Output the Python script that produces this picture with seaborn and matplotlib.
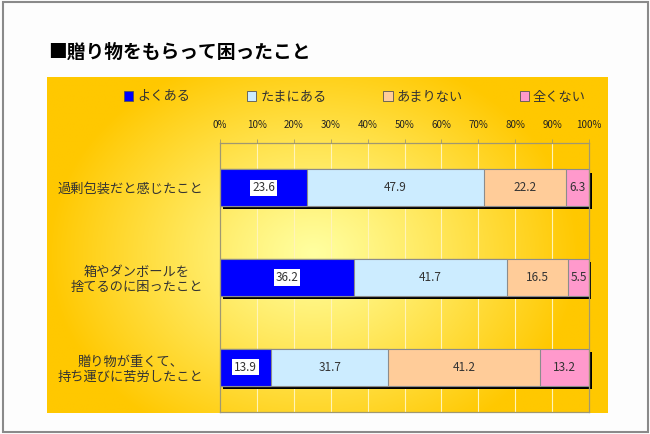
import numpy as np
import pandas as pd
import matplotlib
matplotlib.use('Agg')
import matplotlib.pyplot as plt
import matplotlib.patheffects as pe
from matplotlib.patches import Patch, Rectangle
import seaborn as sns

# data
categories = ['過剰包装だと感じたこと', '箱やダンボールを\n捨てるのに困ったこと', '贈り物が重くて、\n持ち運びに苦労したこと']
often = [23.6, 36.2, 13.9]
sometimes = [47.9, 41.7, 31.7]
rarely = [22.2, 16.5, 41.2]
never = [6.3, 5.5, 13.2]
series_names = ['よくある', 'たまにある', 'あまりない', '全くない']
colors = ['#0000FF', '#CCECFF', '#FFCC99', '#FF99CC']
tick_labels = ['0%', '10%', '20%', '30%', '40%', '50%', '60%', '70%', '80%', '90%', '100%']

sns.set_style('white')
plt.rcParams['font.family'] = ['Noto Sans CJK JP', 'DejaVu Sans']

df = pd.DataFrame({'cat': categories, 's1': often, 's2': sometimes, 's3': rarely, 's4': never})
df['c1'] = df['s1']
df['c2'] = df['c1'] + df['s2']
df['c3'] = df['c2'] + df['s3']
df['c4'] = df['c3'] + df['s4']

W, H = 650, 434
fig = plt.figure(figsize=(W / 100, H / 100), dpi=100)
fig.patch.set_facecolor('#FDFDFD')
fig.patches.append(Rectangle((3 / W, 2 / H), 645 / W, 430 / H, transform=fig.transFigure,
                             fill=False, edgecolor='#8A8A8A', linewidth=1.5))

# yellow gradient panel
px0, px1, py0, py1 = 47, 608, 77, 413
bg = fig.add_axes([px0 / W, 1 - py1 / H, (px1 - px0) / W, (py1 - py0) / H])
gx, gy = np.meshgrid(np.linspace(-1, 1, 400), np.linspace(-1, 1, 300))
t = np.clip(np.sqrt(((gx + 0.05) / 0.95) ** 2 + ((gy - 0.05) / 1.25) ** 2), 0, 1) ** 1.1
inner = np.array([255, 255, 160]) / 255
outer = np.array([255, 200, 0]) / 255
img = inner[None, None, :] * (1 - t[..., None]) + outer[None, None, :] * t[..., None]
bg.imshow(img, aspect='auto', extent=[0, 1, 0, 1])
bg.axis('off')

ax = fig.add_axes([220 / W, 1 - 412 / H, (589 - 220) / W, (412 - 143) / H])
ax.set_facecolor('none')

# stacked bars: draw cumulative totals from longest to shortest
for i, col in enumerate(['c4', 'c3', 'c2', 'c1']):
    n0 = len(ax.patches)
    sns.barplot(data=df, x=col, y='cat', orient='h', color=colors[3 - i], saturation=1,
                width=0.41, edgecolor='#8C8C8C', linewidth=0.8, ax=ax)
    if i == 0:
        for p in ax.patches[n0:]:
            p.set_clip_on(False)
            p.set_path_effects([pe.SimplePatchShadow(offset=(2, -2.2), shadow_rgbFace='black', alpha=1.0),
                                pe.Normal()])

# value labels
for j in range(len(categories)):
    left = 0
    for k, v in enumerate([often[j], sometimes[j], rarely[j], never[j]]):
        kw = dict(ha='center', va='center', fontsize=8.5, color='#333333', zorder=5)
        if k == 0:
            kw['bbox'] = dict(boxstyle='square,pad=0.15', facecolor='white', edgecolor='none')
        ax.text(left + v / 2, j, f'{v:.1f}', **kw)
        left += v

ax.set_xlim(0, 100)
ax.set_ylim(2.5, -0.5)
ax.set_xlabel('')
ax.set_ylabel('')
ax.xaxis.tick_top()
ax.set_xticks(np.arange(0, 101, 10))
ax.set_xticklabels(tick_labels, fontsize=7, color='#222222')
ax.tick_params(axis='x', length=3, width=0.6, color='#A09870', pad=6, top=True, bottom=False)
ax.tick_params(axis='y', length=0, pad=12, labelsize=9.5, labelcolor='#333333')
for lab in ax.get_yticklabels():
    lab.set_multialignment('center')
ax.set_yticks([0.5, 1.5], minor=True)
ax.tick_params(axis='y', which='minor', length=5, width=0.6, color='#A09870', direction='in')
ax.set_axisbelow(True)
ax.xaxis.grid(True, color='#FFF4B8', linewidth=0.8)
for s in ax.spines.values():
    s.set_color('#A09870')
    s.set_linewidth(0.9)

handles = [Patch(facecolor=c, edgecolor='#555555', linewidth=0.6) for c in colors]
fig.legend(handles, series_names, loc='center', bbox_to_anchor=(355 / W, 1 - 97 / H), ncol=4,
           frameon=False, fontsize=9.5, handlelength=0.7, handleheight=0.7, handletextpad=0.3,
           columnspacing=4.3, labelcolor='#333333')

fig.text(48 / W, 1 - 52 / H, '■贈り物をもらって困ったこと', fontsize=13.5, fontweight='bold',
         va='center', ha='left', color='black')

fig.savefig('out.png', dpi=100)
